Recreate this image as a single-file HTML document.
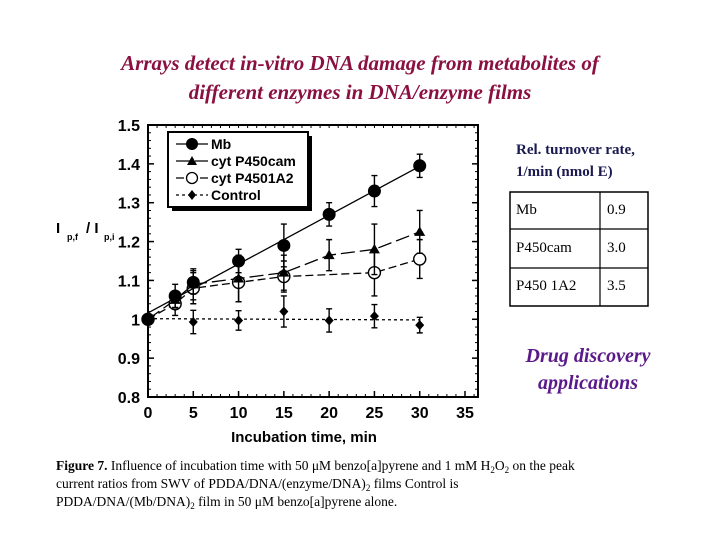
<!DOCTYPE html>
<html><head><meta charset="utf-8"><style>
body{margin:0;background:#fff;width:720px;height:540px;overflow:hidden;}
svg{display:block;}
</style></head><body>
<svg width="720" height="540" font-family="Liberation Sans, sans-serif">
<g font-family="Liberation Serif, serif" font-style="italic" font-weight="bold" font-size="21" fill="#8a1040" text-anchor="middle">
<text x="360" y="70">Arrays detect in-vitro DNA damage from metabolites of</text>
<text x="360" y="99">different enzymes in DNA/enzyme films</text>
</g>
<g id="chart"></g>
<g font-weight="bold" fill="#000">
<text x="56" y="233" font-size="15">I</text><text x="67" y="240" font-size="9">p,f</text>
<text x="86" y="233" font-size="15">/ I</text><text x="104" y="240" font-size="9">p,i</text>
</g>
<text x="304" y="442" font-size="15" font-weight="bold" text-anchor="middle">Incubation time, min</text>
<g font-family="Liberation Serif, serif" font-weight="bold" font-size="15" fill="#1a1a50">
<text x="516" y="154">Rel. turnover rate,</text><text x="516" y="176">1/min (nmol E)</text>
</g>
<g font-family="Liberation Serif, serif" font-size="15" fill="#000">
<rect x="510" y="192" width="138" height="114" fill="none" stroke="#000" stroke-width="1.5"/>
<line x1="600" y1="192" x2="600" y2="306" stroke="#000" stroke-width="1.2"/>
<line x1="510" y1="229" x2="648" y2="229" stroke="#000" stroke-width="1.2"/>
<line x1="510" y1="268" x2="648" y2="268" stroke="#000" stroke-width="1.2"/>
<text x="516" y="214">Mb</text><text x="607" y="214">0.9</text>
<text x="516" y="252">P450cam</text><text x="607" y="252">3.0</text>
<text x="516" y="290">P450 1A2</text><text x="607" y="290">3.5</text>
</g>
<g font-family="Liberation Serif, serif" font-style="italic" font-weight="bold" font-size="20" fill="#5a1a8a" text-anchor="middle">
<text x="588" y="362">Drug discovery</text><text x="588" y="389">applications</text>
</g>
<g font-family="Liberation Serif, serif" font-size="13.5" fill="#000">
<text x="56" y="470"><tspan font-weight="bold">Figure 7.</tspan> Influence of incubation time with 50 μM benzo[a]pyrene and 1 mM H<tspan font-size="9" dy="3">2</tspan><tspan dy="-3">O</tspan><tspan font-size="9" dy="3">2</tspan><tspan dy="-3"> on the peak</tspan></text>
<text x="56" y="488">current ratios from SWV of PDDA/DNA/(enzyme/DNA)<tspan font-size="9" dy="3">2</tspan><tspan dy="-3"> films Control is</tspan></text>
<text x="56" y="506">PDDA/DNA/(Mb/DNA)<tspan font-size="9" dy="3">2</tspan><tspan dy="-3"> film in 50 μM benzo[a]pyrene alone.</tspan></text>
</g>
</svg>
<script>
const xTicks=[0,5,10,15,20,25,30,35];
const yTicks=[0.8,0.9,1,1.1,1.2,1.3,1.4,1.5];
const yTickLabels=["0.8","0.9","1","1.1","1.2","1.3","1.4","1.5"];
const mbX=[0,3,5,10,15,20,25,30];
const mbY=[1.0,1.06,1.095,1.15,1.19,1.27,1.33,1.395];
const mbErr=[0.01,0.03,0.03,0.03,0.055,0.03,0.04,0.03];
const camX=[0,3,5,10,15,20,25,30];
const camY=[1.0,1.05,1.09,1.105,1.12,1.165,1.18,1.225];
const camErr=[0.01,0.02,0.04,0.06,0.045,0.04,0.065,0.055];
const a2X=[0,3,5,10,15,25,30];
const a2Y=[1.0,1.04,1.08,1.095,1.11,1.12,1.155];
const a2Err=[0.01,0.03,0.04,0.05,0.04,0.06,0.05];
const ctlX=[0,5,10,15,20,25,30];
const ctlY=[1.0,0.993,0.997,1.02,0.997,1.008,0.985];
const ctlErr=[0.01,0.03,0.025,0.04,0.03,0.03,0.02];
const NS="http://www.w3.org/2000/svg";
const g=document.getElementById('chart');
const X=v=>148+v*(465-148)/35;
const Y=v=>397-(v-0.8)*(397-125)/0.7;
function el(t,a,p){const e=document.createElementNS(NS,t);for(const k in a)e.setAttribute(k,a[k]);(p||g).appendChild(e);return e;}
const frame=el('rect',{x:148,y:125,width:330,height:272,fill:'none',stroke:'#000','stroke-width':2});


xTicks.forEach(t=>{
  const tk=el('line',{x1:X(t),x2:X(t),y1:397,y2:391,stroke:'#000','stroke-width':1.5});
  
  
  const tx=el('text',{x:X(t),y:418,'font-size':16,'font-weight':'bold','text-anchor':'middle'});tx.textContent=t;
  
  
});
for(let t=0;t<=36;t++){el('line',{x1:X(t),x2:X(t),y1:397,y2:394,stroke:'#000'});el('line',{x1:X(t),x2:X(t),y1:125,y2:128,stroke:'#000'});}
yTicks.forEach((t,i)=>{
  const tk=el('line',{x1:148,x2:154,y1:Y(t),y2:Y(t),stroke:'#000','stroke-width':1.5});
  
  
  el('line',{x1:472,x2:478,y1:Y(t),y2:Y(t),stroke:'#000','stroke-width':1.5});
  const tx=el('text',{x:140,y:Y(t)+6,'font-size':16,'font-weight':'bold','text-anchor':'end'});tx.textContent=yTickLabels[i];
  
  
});
for(let t=0.8;t<1.5;t+=0.02){el('line',{x1:148,x2:151,y1:Y(t),y2:Y(t),stroke:'#000'});el('line',{x1:475,x2:478,y1:Y(t),y2:Y(t),stroke:'#000'});}
function series(name,xs,ys,es,dash,marker,fit){
  const sg=el('g',{});
  
  
  if(fit){const n=xs.length;let sx=0,sy=0,sxy=0,sxx=0;for(let i=0;i<n;i++){sx+=xs[i];sy+=ys[i];sxy+=xs[i]*ys[i];sxx+=xs[i]*xs[i];}
    const b=(n*sxy-sx*sy)/(n*sxx-sx*sx),a=(sy-b*sx)/n;
    el('line',{x1:X(xs[0]),y1:Y(a+b*xs[0]),x2:X(xs[n-1]),y2:Y(a+b*xs[n-1]),stroke:'#000','stroke-width':1.3,'stroke-dasharray':dash},sg);}
  else el('polyline',{points:xs.map((x,i)=>X(x)+','+Y(ys[i])).join(' '),fill:'none',stroke:'#000','stroke-width':1.3,'stroke-dasharray':dash},sg);
  xs.forEach((x,i)=>{
    const cx=X(x),cy=Y(ys[i]),t=Y(ys[i]+es[i]),b=Y(ys[i]-es[i]);
    const eb=el('path',{d:`M${cx},${t}V${b}M${cx-3},${t}H${cx+3}M${cx-3},${b}H${cx+3}`,stroke:'#000','stroke-width':1.4},sg);
    
    
    let m;
    if(marker==='circle')m=el('circle',{cx,cy,r:6.5,fill:'#000'},sg);
    else if(marker==='open')m=el('circle',{cx,cy,r:6,fill:'#fff',stroke:'#000','stroke-width':1.4},sg);
    else if(marker==='tri')m=el('path',{d:`M${cx},${cy-5.5}L${cx+5.5},${cy+4}L${cx-5.5},${cy+4}Z`,fill:'#000'},sg);
    else m=el('path',{d:`M${cx},${cy-5}L${cx+4.5},${cy}L${cx},${cy+5}L${cx-4.5},${cy}Z`,fill:'#000'},sg);
    
    
  });
}
series('control',ctlX,ctlY,ctlErr,'3,3','diamond',true);
series('p4501a2',a2X,a2Y,a2Err,'8,4','open',false);
series('p450cam',camX,camY,camErr,'14,5','tri',false);
series('mb',mbX,mbY,mbErr,'','circle',true);
const lg=el('g',{});


el('rect',{x:172,y:136,width:140,height:75,fill:'#000'},lg);
el('rect',{x:168,y:132,width:140,height:75,fill:'#fff',stroke:'#000','stroke-width':2},lg);
const items=[['Mb','','circle'],['cyt P450cam','14,5','tri'],['cyt P4501A2','8,4','open'],['Control','3,3','diamond']];
items.forEach((it,i)=>{
  const y=144+i*17;
  const e=el('g',{},lg);
  
  
  el('line',{x1:176,x2:208,y1:y,y2:y,stroke:'#000','stroke-width':1.3,'stroke-dasharray':it[1]},e);
  const cx=192,cy=y;
  if(it[2]==='circle')el('circle',{cx,cy,r:6,fill:'#000'},e);
  else if(it[2]==='open')el('circle',{cx,cy,r:5.5,fill:'#fff',stroke:'#000','stroke-width':1.3},e);
  else if(it[2]==='tri')el('path',{d:`M${cx},${cy-5}L${cx+5},${cy+4}L${cx-5},${cy+4}Z`,fill:'#000'},e);
  else el('path',{d:`M${cx},${cy-5}L${cx+4},${cy}L${cx},${cy+5}L${cx-4},${cy}Z`,fill:'#000'},e);
  const t=el('text',{x:211,y:y+5,'font-size':14,'font-weight':'bold'},e);t.textContent=it[0];
});
</script>
</body></html>
